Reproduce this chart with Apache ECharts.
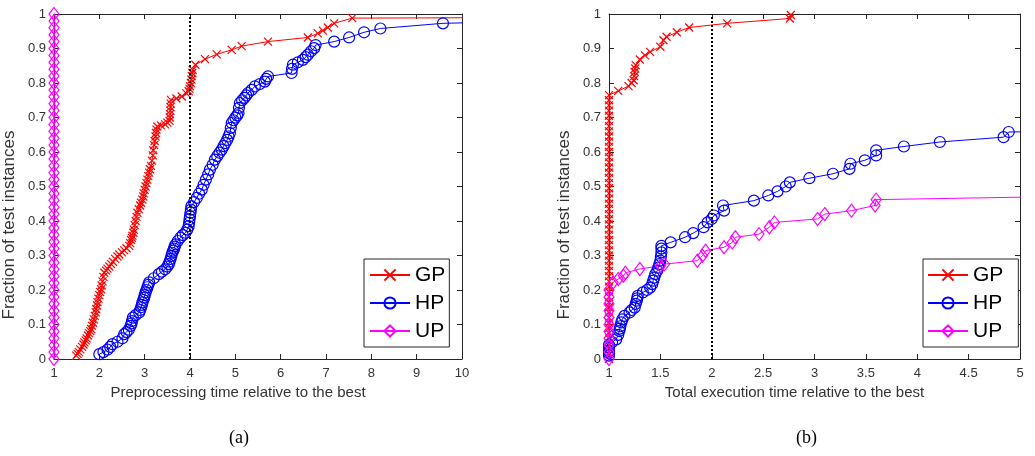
<!DOCTYPE html>
<html>
<head>
<meta charset="utf-8">
<title>Performance profiles</title>
<script src="https://cdn.jsdelivr.net/npm/echarts@6/dist/echarts.min.js"></script>
<style>
  html, body { margin: 0; padding: 0; background: #fff; }
  #chart { width: 1035px; height: 456px; }
</style>
</head>
<body>
<div id="chart"></div>
<script>
// (a) preprocessing time relative to the best
const gpPre = [
  [1.49, 0.01], [1.52, 0.015], [1.55, 0.02], [1.58, 0.028], [1.62, 0.035], [1.65, 0.042],
  [1.67, 0.048], [1.7, 0.054], [1.72, 0.06], [1.75, 0.068], [1.77, 0.075], [1.8, 0.081],
  [1.82, 0.087], [1.84, 0.096], [1.86, 0.105], [1.88, 0.115], [1.9, 0.125], [1.92, 0.135],
  [1.93, 0.145], [1.95, 0.155], [1.96, 0.165], [1.98, 0.175], [2.0, 0.185], [2.02, 0.194],
  [2.04, 0.202], [2.05, 0.213], [2.07, 0.225], [2.09, 0.238], [2.11, 0.25], [2.15, 0.256],
  [2.18, 0.262], [2.22, 0.268], [2.26, 0.275], [2.3, 0.282], [2.35, 0.29], [2.4, 0.297],
  [2.44, 0.303], [2.5, 0.309], [2.55, 0.315], [2.6, 0.321], [2.66, 0.328], [2.68, 0.336],
  [2.7, 0.345], [2.72, 0.351], [2.73, 0.357], [2.75, 0.366], [2.76, 0.375], [2.78, 0.388],
  [2.8, 0.4], [2.82, 0.412], [2.84, 0.424], [2.87, 0.434], [2.9, 0.445], [2.92, 0.453],
  [2.95, 0.462], [2.97, 0.471], [2.98, 0.48], [3.0, 0.49], [3.02, 0.5], [3.04, 0.51],
  [3.06, 0.52], [3.08, 0.53], [3.1, 0.54], [3.12, 0.55], [3.14, 0.56], [3.16, 0.575],
  [3.18, 0.59], [3.19, 0.605], [3.21, 0.62], [3.22, 0.632], [3.24, 0.645], [3.25, 0.655],
  [3.26, 0.665], [3.28, 0.674], [3.36, 0.677], [3.45, 0.68], [3.5, 0.685], [3.55, 0.69],
  [3.555, 0.7], [3.56, 0.71], [3.565, 0.72], [3.57, 0.73], [3.575, 0.74], [3.58, 0.751],
  [3.7, 0.755], [3.82, 0.761], [3.92, 0.77], [3.97, 0.776], [3.99, 0.783], [4.0, 0.79],
  [4.02, 0.8], [4.03, 0.81], [4.04, 0.82], [4.05, 0.829], [4.06, 0.838], [4.12, 0.853],
  [4.33, 0.869], [4.59, 0.883], [4.92, 0.896], [5.14, 0.907], [5.72, 0.92], [6.6, 0.932],
  [6.82, 0.944], [6.93, 0.952], [7.04, 0.961], [7.18, 0.973], [7.58, 0.988], [12, 0.99]
];
const hpPre = [
  [2.0, 0.014], [2.09, 0.02], [2.18, 0.027], [2.24, 0.035], [2.29, 0.043], [2.4, 0.05],
  [2.51, 0.06], [2.55, 0.072], [2.6, 0.078], [2.65, 0.085], [2.69, 0.096], [2.71, 0.103],
  [2.72, 0.11], [2.74, 0.12], [2.8, 0.127], [2.88, 0.135], [2.9, 0.142], [2.92, 0.15],
  [2.94, 0.157], [2.95, 0.164], [2.97, 0.171], [2.99, 0.178], [3.0, 0.185], [3.02, 0.193],
  [3.04, 0.2], [3.06, 0.208], [3.08, 0.215], [3.1, 0.222], [3.2, 0.234], [3.31, 0.246],
  [3.38, 0.253], [3.45, 0.26], [3.5, 0.268], [3.53, 0.275], [3.55, 0.282], [3.57, 0.29],
  [3.59, 0.299], [3.61, 0.308], [3.63, 0.314], [3.65, 0.32], [3.66, 0.326], [3.68, 0.332],
  [3.73, 0.342], [3.79, 0.352], [3.84, 0.359], [3.9, 0.366], [3.94, 0.375], [3.97, 0.385],
  [3.98, 0.395], [3.99, 0.405], [4.0, 0.414], [4.01, 0.424], [4.02, 0.433], [4.03, 0.443],
  [4.09, 0.455], [4.15, 0.467], [4.2, 0.479], [4.26, 0.491], [4.3, 0.505], [4.35, 0.52],
  [4.4, 0.535], [4.44, 0.549], [4.5, 0.563], [4.55, 0.578], [4.6, 0.588], [4.65, 0.598],
  [4.7, 0.607], [4.74, 0.617], [4.78, 0.626], [4.82, 0.635], [4.85, 0.645], [4.88, 0.655],
  [4.9, 0.67], [4.92, 0.684], [4.96, 0.692], [5.0, 0.7], [5.04, 0.706], [5.07, 0.713],
  [5.08, 0.728], [5.1, 0.742], [5.15, 0.75], [5.2, 0.757], [5.24, 0.764], [5.28, 0.771],
  [5.36, 0.78], [5.43, 0.79], [5.54, 0.797], [5.65, 0.804], [5.68, 0.812], [5.72, 0.819],
  [6.24, 0.829], [6.25, 0.841], [6.27, 0.853], [6.38, 0.86], [6.49, 0.867], [6.55, 0.875],
  [6.6, 0.882], [6.67, 0.892], [6.74, 0.901], [6.77, 0.91], [7.18, 0.92], [7.51, 0.932],
  [7.84, 0.947], [8.2, 0.958], [9.58, 0.973], [12, 0.98]
];
const upPre = [
  [1, 0], [1, 0.02], [1, 0.04], [1, 0.06], [1, 0.08], [1, 0.1], [1, 0.12], [1, 0.14],
  [1, 0.16], [1, 0.18], [1, 0.2], [1, 0.22], [1, 0.24], [1, 0.26], [1, 0.28], [1, 0.3],
  [1, 0.32], [1, 0.34], [1, 0.36], [1, 0.38], [1, 0.4], [1, 0.42], [1, 0.44], [1, 0.46],
  [1, 0.48], [1, 0.5], [1, 0.52], [1, 0.54], [1, 0.56], [1, 0.58], [1, 0.6], [1, 0.62],
  [1, 0.64], [1, 0.66], [1, 0.68], [1, 0.7], [1, 0.72], [1, 0.74], [1, 0.76], [1, 0.78],
  [1, 0.8], [1, 0.82], [1, 0.84], [1, 0.86], [1, 0.88], [1, 0.9], [1, 0.92], [1, 0.94],
  [1, 0.96], [1, 0.98], [1, 1]
];

// (b) total execution time relative to the best
const gpTotal = [
  [1, 0], [1, 0.015], [1, 0.03], [1, 0.045], [1, 0.06], [1, 0.075], [1, 0.09], [1, 0.105],
  [1, 0.12], [1, 0.135], [1, 0.15], [1, 0.165], [1, 0.18], [1, 0.195], [1, 0.21], [1, 0.225],
  [1, 0.24], [1, 0.255], [1, 0.27], [1, 0.285], [1, 0.3], [1, 0.315], [1, 0.33], [1, 0.345],
  [1, 0.36], [1, 0.375], [1, 0.39], [1, 0.405], [1, 0.42], [1, 0.435], [1, 0.45], [1, 0.465],
  [1, 0.48], [1, 0.495], [1, 0.51], [1, 0.525], [1, 0.54], [1, 0.555], [1, 0.57], [1, 0.585],
  [1, 0.6], [1, 0.615], [1, 0.63], [1, 0.645], [1, 0.66], [1, 0.675], [1, 0.69], [1, 0.705],
  [1, 0.72], [1, 0.735], [1, 0.75], [1, 0.765],
  [1.09, 0.777], [1.19, 0.791], [1.22, 0.8], [1.24, 0.808], [1.245, 0.82], [1.25, 0.832],
  [1.255, 0.842], [1.26, 0.852], [1.3, 0.868], [1.35, 0.88], [1.4, 0.89], [1.5, 0.905],
  [1.53, 0.924], [1.56, 0.934], [1.66, 0.947], [1.78, 0.961], [2.15, 0.973], [2.76, 0.987],
  [2.77, 0.997]
];
const hpTotal = [
  [1, 0.01], [1, 0.017], [1, 0.023], [1, 0.032], [1, 0.041], [1.03, 0.049], [1.07, 0.057],
  [1.09, 0.07], [1.1, 0.081], [1.105, 0.088], [1.11, 0.095], [1.12, 0.106], [1.13, 0.115],
  [1.15, 0.125], [1.2, 0.135], [1.22, 0.142], [1.25, 0.149], [1.26, 0.16], [1.27, 0.169],
  [1.275, 0.176], [1.28, 0.183], [1.33, 0.193], [1.37, 0.2], [1.4, 0.207], [1.42, 0.217],
  [1.43, 0.227], [1.44, 0.236], [1.45, 0.246], [1.47, 0.256], [1.48, 0.265], [1.49, 0.275],
  [1.5, 0.285], [1.505, 0.297], [1.51, 0.309], [1.51, 0.32], [1.51, 0.328], [1.6, 0.338],
  [1.74, 0.353], [1.82, 0.365], [1.92, 0.382], [1.96, 0.396], [2.0, 0.406], [2.02, 0.416],
  [2.12, 0.43], [2.11, 0.445], [2.41, 0.459], [2.55, 0.474], [2.64, 0.486], [2.72, 0.5],
  [2.76, 0.512], [2.95, 0.524], [3.18, 0.537], [3.34, 0.551], [3.35, 0.566], [3.49, 0.576],
  [3.6, 0.59], [3.6, 0.605], [3.87, 0.616], [4.22, 0.629], [4.84, 0.643], [4.89, 0.658],
  [6, 0.662]
];
const upTotal = [
  [1, 0], [1, 0.02], [1, 0.04], [1, 0.06], [1, 0.08], [1, 0.1], [1, 0.12], [1, 0.14],
  [1, 0.16], [1, 0.18], [1, 0.2], [1.04, 0.222], [1.09, 0.232], [1.14, 0.241], [1.16, 0.25],
  [1.3, 0.261], [1.5, 0.27], [1.54, 0.275], [1.86, 0.285], [1.91, 0.299], [1.94, 0.314],
  [2.12, 0.324], [2.2, 0.338], [2.23, 0.353], [2.46, 0.362], [2.56, 0.382], [2.61, 0.396],
  [3.03, 0.406], [3.1, 0.42], [3.36, 0.43], [3.59, 0.445], [3.6, 0.462], [6, 0.474]
];

const seriesNames = ['GP', 'HP', 'UP'];
const xNames = ['Preprocessing time relative to the best', 'Total execution time relative to the best'];
const yName = 'Fraction of test instances';
const captions = ['(a)', '(b)'];
const cutoffs = [4, 2];

const font = 'Liberation Sans, Arial, Helvetica, sans-serif';
const axisColor = '#262626';
const crossPath = 'path://M0,0L10,10M10,0L0,10';

const chart = echarts.init(document.getElementById('chart'));

const grids = [
  { left: 51, top: 14, width: 411, height: 345 },
  { left: 609, top: 14, width: 411, height: 345 }
];

// each panel: bottom + top x axis, left + right y axis (MATLAB box with inner ticks)
const xAxes = [];
const yAxes = [];
const xRanges = [{ min: 1, max: 10, interval: 1 }, { min: 1, max: 5, interval: 0.5 }];
[0, 1].forEach(g => {
  const common = {
    type: 'value', gridIndex: g, ...xRanges[g],
    axisLine: { onZero: false, lineStyle: { color: axisColor, width: 1 } },
    axisTick: { inside: true, length: 5, lineStyle: { color: axisColor } },
    splitLine: { show: false }
  };
  xAxes.push({
    ...common, position: 'bottom',
    axisLabel: { color: '#333', fontFamily: font, fontSize: 13, margin: 8 },
    name: xNames[g], nameLocation: 'middle', nameGap: 26,
    nameTextStyle: { color: '#333', fontFamily: font, fontSize: 15, padding: [0, 40, 0, 0] }
  });
  xAxes.push({ ...common, position: 'top', axisLabel: { show: false } });

  const ycommon = {
    type: 'value', gridIndex: g, min: 0, max: 1, interval: 0.1,
    axisLine: { show: true, onZero: false, lineStyle: { color: axisColor, width: 1 } },
    axisTick: { show: true, inside: true, length: 5, lineStyle: { color: axisColor } },
    splitLine: { show: false }
  };
  yAxes.push({
    ...ycommon, position: 'left',
    axisLabel: { color: '#333', fontFamily: font, fontSize: 13, margin: 8 },
    name: yName, nameLocation: 'middle', nameGap: 36,
    nameTextStyle: { color: '#333', fontFamily: font, fontSize: 17, padding: [0, 77, 0, 0] }
  });
  yAxes.push({ ...ycommon, position: 'right', axisLabel: { show: false } });
});

const styles = {
  GP: { color: '#ff0000', symbol: crossPath, symbolSize: 8 },
  HP: { color: '#0000ff', symbol: 'circle', symbolSize: 11 },
  UP: { color: '#ff00ff', symbol: 'diamond', symbolSize: [10, 13] }
};

function makeSeries(name, data, g, withCutoff) {
  const s = styles[name];
  const obj = {
    name, type: 'line', data,
    xAxisIndex: g * 2, yAxisIndex: g * 2,
    symbol: s.symbol, symbolSize: s.symbolSize, showAllSymbol: true,
    clip: true, animation: false,
    lineStyle: { color: s.color, width: 1 },
    itemStyle: { color: 'rgba(0,0,0,0)', borderColor: s.color, borderWidth: 1.2 }
  };
  if (withCutoff) {
    obj.markLine = {
      silent: true, symbol: 'none', label: { show: false },
      lineStyle: { color: '#000', width: 2, type: [2, 2] },
      data: [{ xAxis: cutoffs[g] }]
    };
  }
  return obj;
}

const series = [
  makeSeries('GP', gpPre, 0, true),
  makeSeries('HP', hpPre, 0, false),
  makeSeries('UP', upPre, 0, false),
  makeSeries('GP', gpTotal, 1, true),
  makeSeries('HP', hpTotal, 1, false),
  makeSeries('UP', upTotal, 1, false)
];

const legendCommon = {
  orient: 'vertical', data: seriesNames,
  itemWidth: 40, itemHeight: 14, itemGap: 6,
  borderColor: '#262626', borderWidth: 1, backgroundColor: '#fff',
  selectedMode: false,
  textStyle: { color: '#000', fontFamily: font, fontSize: 21, lineHeight: 22 }
};

chart.setOption({
  backgroundColor: '#fff',
  animation: false,
  grid: grids,
  xAxis: xAxes,
  yAxis: yAxes,
  legend: [
    { ...legendCommon, left: 364, top: 259, padding: [5, 4, 5, 5] },
    { ...legendCommon, left: 923, top: 259, padding: [5, 15, 5, 4] }
  ],
  graphic: [
    { type: 'text', left: 229, top: 429, style: { text: captions[0], font: '18px "Liberation Serif", serif', fill: '#000' } },
    { type: 'text', left: 796, top: 429, style: { text: captions[1], font: '18px "Liberation Serif", serif', fill: '#000' } }
  ],
  series
});
</script>
</body>
</html>
